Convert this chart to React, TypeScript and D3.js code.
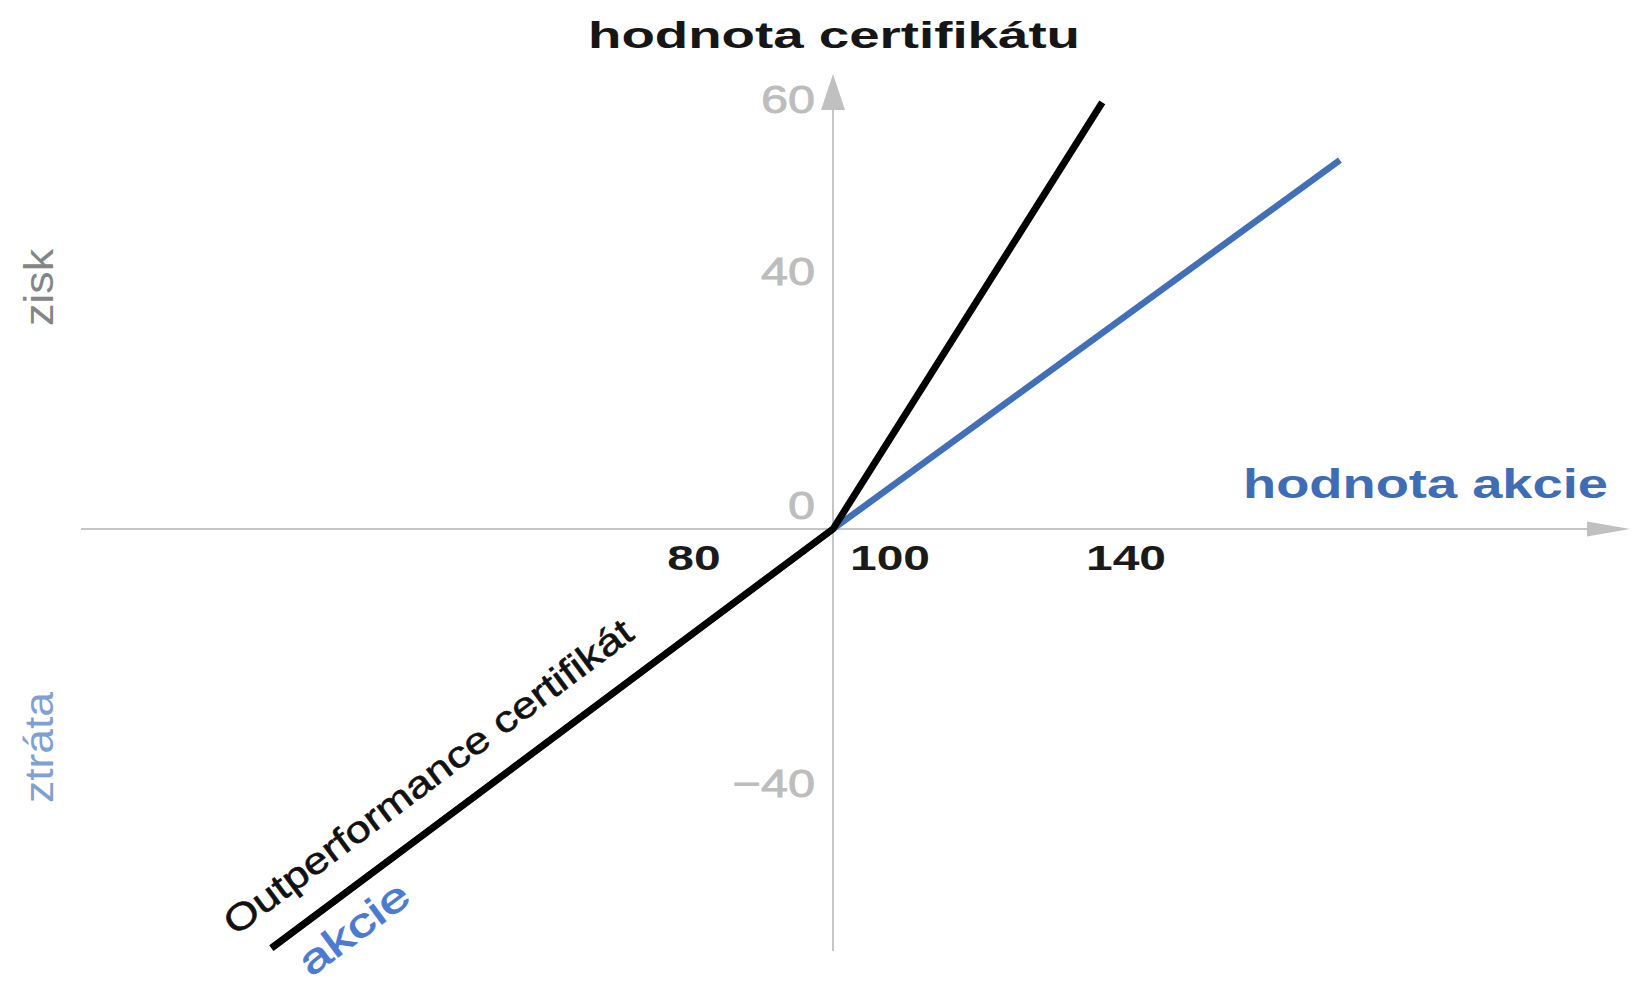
import React from "react";
import * as d3 from "d3";

// ---- data ----
const xTickValues = [80, 100, 140];
const yTickValues = [60, 40, 0, -40];
// stock (akcie) payoff: stock value -> profit
const stockValue = [22, 100, 170.4];
const stockProfit = [-66, 0, 52.9];
// outperformance certificate payoff
const certValue = [22, 100, 137.4];
const certProfit = [-66, 0, 59.6];

const titleText = "hodnota certifikátu";
const xAxisText = "hodnota akcie";
const gainText = "zisk";
const lossText = "ztráta";
const certLabel = "Outperformance certifikát";
const stockLabel = "akcie";

const W = 1633;
const H = 995;
const FONT = "'Liberation Sans', Arial, Helvetica, sans-serif";

export default function App() {
  const x = d3.scaleLinear().domain([100, 140]).range([833, 1121]);
  const y = d3
    .scaleLinear()
    .domain([-40, 0, 40, 60])
    .range([783, 529, 271, 99]);

  const line = d3
    .line<[number, number]>()
    .x((d) => x(d[0]))
    .y((d) => y(d[1]));

  const stockPts: [number, number][] = stockValue.map((v, i) => [v, stockProfit[i]]);
  const certPts: [number, number][] = certValue.map((v, i) => [v, certProfit[i]]);

  const ax = x(100);
  const ay = y(0);
  const fmt = d3.format("");

  // lower segment direction for rotated labels
  const p0 = [x(certValue[0]), y(certProfit[0])];
  const p1 = [x(certValue[1]), y(certProfit[1])];
  const len = Math.hypot(p1[0] - p0[0], p1[1] - p0[1]);
  const u = [(p1[0] - p0[0]) / len, (p1[1] - p0[1]) / len];
  const nrm = [u[1], -u[0]]; // perpendicular pointing up-left
  const ang = (Math.atan2(u[1], u[0]) * 180) / Math.PI;
  const at = (s: number, d: number) => [p0[0] + u[0] * s + nrm[0] * d, p0[1] + u[1] * s + nrm[1] * d];
  const certPos = at(-22, 31);
  const stockPos = at(14, -47);

  const axisColor = "#c6c6c6";
  const yTickFs = 38;
  const xTickFs = 35;

  return (
    <svg
      width={W}
      height={H}
      style={{ position: "absolute", left: 0, top: 0, display: "block", background: "#fff" }}
      fontFamily={FONT}
    >
      {/* axes */}
      <line x1={81} y1={ay} x2={1590} y2={ay} stroke={axisColor} strokeWidth={2} />
      <polygon points={`1630,${ay} 1587,${ay - 7.5} 1587,${ay + 7.5}`} fill="#c0c0c0" />
      <line x1={ax} y1={951} x2={ax} y2={106} stroke={axisColor} strokeWidth={2} />
      <polygon points={`${ax},74 ${ax - 12},110 ${ax + 12},110`} fill="#c0c0c0" />

      {/* y tick labels */}
      {yTickValues.map((v) => (
        <text
          key={"y" + v}
          x={ax - 18}
          y={v === 0 ? ay - 9.5 : y(v) + 0.358 * yTickFs}
          textAnchor="end"
          fontSize={yTickFs}
          fontWeight={400}
          fill="#bdbdbd"
          stroke="#bdbdbd"
          strokeWidth={0.8}
          transform={`translate(${ax - 18},0) scale(1.28,1) translate(${-(ax - 18)},0)`}
        >
          {fmt(v)}
        </text>
      ))}

      {/* x tick labels */}
      {xTickValues.map((v) => {
        const isOrigin = v === 100;
        const px = isOrigin ? x(v) + 17 : x(v) + 5;
        return (
          <text
            key={"x" + v}
            x={px}
            y={570}
            textAnchor={isOrigin ? "start" : "middle"}
            fontSize={xTickFs}
            fontWeight={700}
            fill="#1a1a1a"
            transform={`translate(${px},0) scale(1.37,1) translate(${-px},0)`}
          >
            {fmt(v)}
          </text>
        );
      })}

      {/* series lines */}
      <path d={line(stockPts) || ""} fill="none" stroke="#4170b8" strokeWidth={6.5} />
      <path d={line(certPts) || ""} fill="none" stroke="#000" strokeWidth={7} strokeLinejoin="round" />

      {/* titles */}
      <text
        x={834}
        y={48}
        textAnchor="middle"
        fontSize={37}
        fontWeight={700}
        fill="#161616"
        textLength={492}
        lengthAdjust="spacingAndGlyphs"
      >
        {titleText}
      </text>
      <text
        x={1243}
        y={498}
        fontSize={41}
        fontWeight={700}
        fill="#3e6cb5"
        textLength={365}
        lengthAdjust="spacingAndGlyphs"
      >
        {xAxisText}
      </text>

      {/* side labels */}
      <text
        transform={`translate(53,${y(40) + 55}) rotate(-90)`}
        fontSize={40}
        fill="#858585"
        textLength={77}
        lengthAdjust="spacingAndGlyphs"
      >
        {gainText}
      </text>
      <text
        transform={`translate(53,803) rotate(-90)`}
        fontSize={40}
        fill="#7f9fd5"
        textLength={111}
        lengthAdjust="spacingAndGlyphs"
      >
        {lossText}
      </text>

      {/* rotated series labels */}
      <text
        transform={`translate(${certPos[0]},${certPos[1]}) rotate(${ang})`}
        fontSize={37}
        fill="#111"
        stroke="#111"
        strokeWidth={0.6}
        textLength={500}
        lengthAdjust="spacingAndGlyphs"
      >
        {certLabel}
      </text>
      <text
        transform={`translate(${stockPos[0]},${stockPos[1]}) rotate(${ang})`}
        fontSize={40}
        fontWeight={400}
        fill="#4a7bd0"
        stroke="#4a7bd0"
        strokeWidth={0.8}
        textLength={128}
        lengthAdjust="spacingAndGlyphs"
      >
        {stockLabel}
      </text>
    </svg>
  );
}
